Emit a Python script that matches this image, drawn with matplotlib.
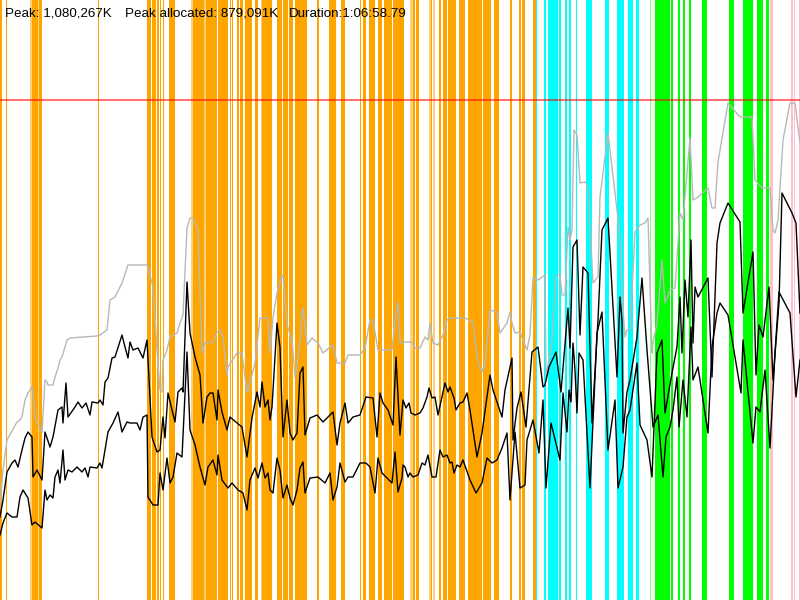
import matplotlib
matplotlib.use("Agg")
import matplotlib.pyplot as plt

# time axis in 5 s steps (800 steps ~ 1:06:58), memory in chart units (peak = 500)
heap_t = [0, 3, 7, 17, 20, 22, 25, 28, 32, 33,
          35, 37, 42, 45, 47, 48, 53, 55, 58, 60,
          62, 67, 70, 97, 100, 107, 110, 115, 122, 128,
          147, 150, 153, 157, 160, 162, 163, 167, 170, 173,
          177, 180, 183, 187, 190, 193, 198, 202, 205, 213,
          217, 220, 223, 227, 228, 237, 242, 247, 248, 255,
          260, 268, 270, 273, 277, 282, 283, 287, 292, 295,
          300, 302, 303, 307, 312, 318, 323, 330, 333, 337,
          345, 348, 360, 365, 370, 373, 378, 392, 395, 398,
          400, 405, 412, 415, 420, 425, 428, 430, 433, 438,
          443, 447, 450, 465, 473, 478, 482, 485, 490, 497,
          500, 507, 510, 512, 515, 520, 527, 530, 533, 538,
          545, 546, 552, 556, 560, 562, 565, 568, 570, 572,
          574, 577, 580, 585, 588, 593, 598, 600, 608, 617,
          620, 623, 625, 627, 630, 635, 640, 645, 648, 652,
          653, 657, 662, 665, 670, 675, 680, 683, 690, 693,
          698, 708, 712, 715, 718, 728, 740, 752, 755, 762,
          770, 773, 775, 778, 783, 790, 795, 800]
heap_size = [95, 130, 160, 178, 180, 183, 200, 207, 213, 207,
             183, 177, 168, 220, 218, 215, 215, 223, 232, 240,
             243, 260, 262, 264, 265, 270, 300, 303, 317, 335,
             335, 325, 313, 250, 210, 208, 240, 250, 263, 265,
             267, 277, 285, 372, 382, 382, 370, 247, 257, 258,
             268, 270, 263, 225, 233, 247, 247, 208, 210, 237,
             282, 282, 247, 283, 307, 325, 325, 275, 260, 223,
             257, 287, 292, 255, 262, 257, 247, 253, 255, 237,
             237, 245, 245, 252, 280, 280, 250, 250, 280, 298,
             257, 258, 258, 252, 252, 263, 260, 277, 257, 255,
             265, 280, 282, 282, 278, 237, 228, 237, 290, 288,
             267, 277, 288, 277, 267, 268, 250, 265, 322, 320,
             325, 223, 260, 325, 325, 305, 305, 373, 360, 370,
             470, 465, 417, 418, 413, 317, 323, 403, 467, 390,
             363, 290, 263, 270, 270, 368, 375, 377, 382, 247,
             257, 277, 340, 297, 310, 312, 387, 380, 462, 400,
             403, 412, 392, 392, 438, 497, 483, 483, 420, 412,
             412, 370, 367, 380, 460, 497, 497, 457]

before_t = [0, 3, 7, 12, 15, 18, 22, 25, 28, 32,
            33, 37, 42, 45, 50, 53, 58, 62, 63, 66,
            68, 75, 78, 82, 86, 90, 92, 98, 100, 103,
            105, 108, 112, 115, 122, 125, 128, 130, 133, 138,
            143, 147, 152, 157, 160, 163, 165, 168, 172, 175,
            178, 182, 183, 187, 190, 195, 200, 203, 207, 210,
            213, 217, 218, 222, 227, 230, 237, 242, 247, 252,
            257, 260, 262, 265, 268, 270, 272, 277, 280, 283,
            287, 290, 293, 297, 300, 303, 305, 310, 317, 323,
            333, 337, 340, 345, 348, 353, 360, 366, 373, 377,
            380, 383, 388, 393, 396, 400, 403, 406, 409, 411,
            415, 420, 423, 427, 429, 432, 435, 438, 445, 448,
            450, 454, 456, 460, 463, 467, 470, 477, 482, 487,
            490, 493, 502, 505, 512, 513, 517, 521, 526, 532,
            538, 543, 545, 549, 556, 561, 568, 570, 573, 577,
            580, 583, 588, 592, 598, 602, 608, 617, 620, 622,
            623, 627, 630, 637, 642, 647, 653, 658, 663, 666,
            670, 673, 677, 679, 683, 687, 691, 693, 698, 708,
            712, 717, 720, 728, 741, 743, 753, 756, 760, 765,
            770, 775, 779, 790, 796, 800]
used_before_gc = [83, 100, 128, 137, 140, 133, 150, 162, 168, 163,
                  123, 130, 120, 168, 153, 163, 190, 193, 177, 217,
                  183, 193, 198, 192, 197, 185, 198, 197, 200, 195,
                  218, 222, 242, 243, 265, 253, 242, 258, 250, 252,
                  242, 260, 163, 148, 150, 183, 162, 207, 190, 178,
                  208, 212, 208, 318, 267, 243, 225, 177, 203, 207,
                  207, 180, 210, 188, 170, 183, 177, 173, 143, 182,
                  208, 193, 218, 193, 200, 180, 193, 277, 253, 163,
                  200, 167, 160, 167, 227, 233, 165, 182, 185, 178,
                  188, 155, 177, 197, 177, 183, 185, 203, 202, 163,
                  207, 197, 190, 175, 243, 165, 200, 192, 197, 187,
                  185, 187, 192, 203, 212, 202, 203, 185, 217, 208,
                  213, 202, 190, 197, 198, 207, 190, 143, 167, 203,
                  225, 210, 183, 210, 242, 160, 192, 208, 173, 248,
                  253, 213, 215, 233, 248, 208, 292, 252, 353, 360,
                  265, 333, 327, 177, 280, 370, 382, 223, 303, 280,
                  167, 208, 220, 263, 322, 250, 173, 185, 123, 163,
                  173, 190, 223, 173, 220, 183, 273, 220, 233, 167,
                  253, 287, 297, 285, 207, 260, 157, 193, 188, 230,
                  152, 247, 308, 287, 203, 240]

after_t = [0, 3, 7, 12, 17, 20, 23, 28, 32, 35,
           42, 45, 47, 50, 53, 55, 58, 60, 63, 65,
           68, 72, 77, 82, 85, 88, 90, 97, 100, 102,
           105, 108, 113, 118, 122, 127, 130, 137, 140, 143,
           147, 148, 153, 158, 160, 163, 167, 170, 173, 177,
           182, 185, 187, 190, 195, 200, 205, 208, 213, 217,
           218, 222, 228, 232, 238, 243, 247, 250, 255, 258,
           262, 265, 268, 270, 273, 277, 280, 283, 287, 290,
           293, 297, 300, 303, 305, 310, 318, 325, 330, 333,
           337, 340, 345, 348, 353, 360, 366, 370, 375, 378,
           382, 387, 392, 395, 398, 402, 403, 405, 408, 410,
           413, 418, 422, 425, 428, 432, 436, 440, 443, 447,
           450, 452, 454, 457, 460, 463, 470, 476, 482, 487,
           492, 497, 502, 507, 510, 515, 520, 525, 527, 533,
           539, 543, 546, 551, 560, 563, 567, 569, 571, 573,
           575, 577, 579, 583, 590, 597, 602, 608, 615, 618,
           623, 627, 630, 637, 640, 647, 652, 657, 662, 665,
           672, 677, 680, 682, 685, 688, 691, 693, 695, 698,
           708, 712, 717, 720, 728, 740, 743, 753, 756, 759,
           763, 769, 773, 779, 782, 792, 796, 800]
used_after_gc = [65, 77, 87, 83, 83, 103, 110, 102, 75, 78,
                 72, 110, 100, 105, 102, 123, 130, 117, 150, 120,
                 130, 128, 133, 128, 132, 123, 133, 132, 137, 132,
                 150, 168, 177, 188, 168, 178, 177, 177, 170, 183,
                 185, 103, 95, 95, 127, 110, 142, 117, 123, 147,
                 143, 205, 248, 170, 155, 133, 115, 133, 140, 125,
                 145, 120, 112, 117, 110, 107, 90, 120, 132, 122,
                 137, 122, 127, 110, 107, 142, 130, 102, 115, 102,
                 95, 110, 132, 138, 107, 122, 123, 117, 127, 100,
                 113, 137, 118, 123, 123, 137, 137, 133, 107, 142,
                 127, 122, 117, 148, 108, 122, 135, 133, 123, 127,
                 123, 125, 137, 135, 145, 123, 123, 150, 143, 145,
                 137, 138, 127, 135, 133, 140, 120, 107, 117, 142,
                 137, 140, 152, 167, 100, 168, 112, 115, 160, 180,
                 147, 200, 112, 177, 140, 207, 168, 210, 198, 257,
                 230, 187, 247, 240, 112, 267, 288, 150, 200, 112,
                 133, 183, 190, 237, 175, 160, 123, 247, 260, 187,
                 227, 253, 303, 247, 320, 283, 360, 257, 313, 303,
                 322, 223, 357, 377, 397, 378, 287, 348, 225, 275,
                 263, 313, 220, 297, 407, 387, 377, 287]

# GC pauses: start, end, kind
gc_start = [0, 6, 30, 32, 38, 39, 98, 147, 152, 157, 160, 162.5, 169,
            191, 193, 204, 206, 218, 229.5, 232, 237, 240, 245, 255, 261, 262,
            277, 283, 289, 295, 317, 329, 341, 360, 363, 369, 378, 384, 393,
            410, 413, 416, 429, 431, 433, 439, 443, 448, 459, 468, 483, 494,
            510, 519, 522, 533,
            536, 544, 548, 559, 565, 569, 576, 586, 605, 617, 628, 636,
            650, 655, 657.4, 660.4, 663.4, 667, 671, 678, 683, 689, 702, 729,
            743, 747.4, 757, 766,
            770, 791, 794, 799]
gc_end = [2, 7, 32, 38, 39, 42, 99, 151, 156, 159, 161, 163.5, 175,
          193, 204, 206, 217, 228, 230.5, 233, 239, 243, 252, 258, 262, 272,
          282, 288, 293, 307, 319, 336, 345, 361, 366, 375, 382, 392, 404,
          413, 415, 419, 431, 432, 435, 441, 447, 456, 465, 482, 491, 499,
          512, 521, 525, 536,
          537, 546, 558, 561, 567, 571, 577, 592, 609, 624, 633, 639,
          651, 657, 660, 663, 666.5, 670, 673, 680, 685, 691, 707, 734,
          747, 753, 763, 769,
          773, 793, 795, 800]
gc_kind = ['y', 'y', 'l', 'y', 'l', 'y', 'y', 'y', 'y', 'y', 'y', 'y', 'y',
           'l', 'y', 'l', 'y', 'y', 'y', 'y', 'y', 'y', 'y', 'y', 'l', 'y',
           'y', 'y', 'y', 'y', 'y', 'y', 'y', 'y', 'y', 'y', 'y', 'y', 'y',
           'l', 'y', 'y', 'l', 'y', 'l', 'y', 'y', 'y', 'y', 'y', 'y', 'y',
           'y', 'y', 'y', 'y',
           'c', 'c', 'c', 'c', 'c', 'c', 'c', 'c', 'c', 'c', 'c', 'c',
           'lg', 'g', 'g', 'g', 'g', 'g', 'g', 'g', 'g', 'g', 'g', 'g',
           'g', 'g', 'g', 'g',
           'p', 'p', 'p', 'p']

peak_level = 500
peak_text = "Peak: 1,080,267K"
alloc_text = "Peak allocated: 879,091K"
duration_text = "Duration:1:06:58.79"

kind_colors = {'y': '#ffa500', 'l': '#ffd07a', 'c': '#00ffff',
               'g': '#00ff00', 'lg': '#80ff80', 'p': '#ffc0cb'}

fig = plt.figure(figsize=(8, 6), dpi=100)
ax = fig.add_axes([0, 0, 1, 1])
ax.set_xlim(0, 800)
ax.set_ylim(0, 600)
ax.axis('off')

for s, e, k in zip(gc_start, gc_end, gc_kind):
    ax.axvspan(s, e, color=kind_colors[k], lw=0, zorder=1)

ax.plot(heap_t, heap_size, color='#b8b8b8', lw=1.0, zorder=2)
ax.plot(before_t, used_before_gc, color='black', lw=1.0, zorder=3)
ax.plot(after_t, used_after_gc, color='black', lw=1.0, zorder=3)
ax.axhline(peak_level, color='red', alpha=0.55, lw=1.5, zorder=4)

font = dict(family='Liberation Sans', size=9.6, color='black')
fig.text(5 / 800, 1 - 17 / 600, peak_text, va='baseline', **font)
fig.text(125 / 800, 1 - 17 / 600, alloc_text, va='baseline', **font)
fig.text(289 / 800, 1 - 17 / 600, duration_text, va='baseline', **font)

fig.savefig('out.png', dpi=100)
